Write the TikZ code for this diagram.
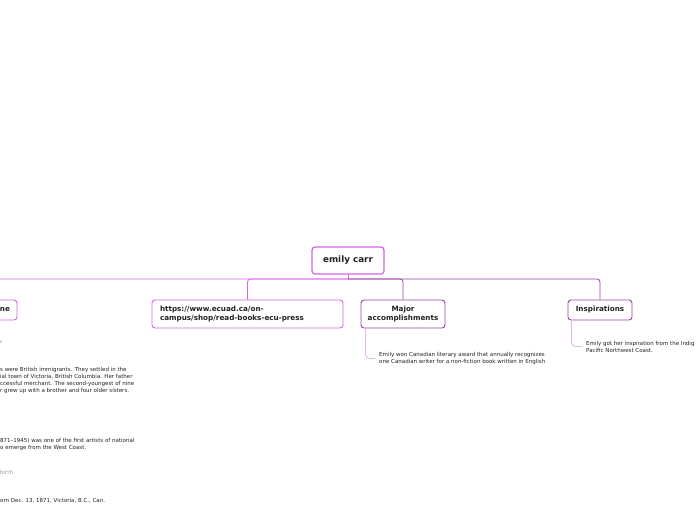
\documentclass[tikz,border=0pt]{standalone}
\usepackage{fontspec}
\setmainfont{DejaVu Sans}
\usetikzlibrary{positioning}
\definecolor{Orchid}{HTML}{D563E6}
\definecolor{Plum}{HTML}{9B3FA6}
\definecolor{Lilac}{HTML}{DDB8E6}
\definecolor{Ink}{HTML}{222222}
\definecolor{Ash}{HTML}{9A9A9A}

\begin{document}
\begin{tikzpicture}[x=1pt,y=-1pt,
    topic/.style={draw=#1,line width=0.9pt,rounded corners=3pt,fill=white,
      text=Ink,inner sep=0pt,font=\fontsize{7.2}{9}\selectfont\bfseries},
    branch/.style={draw=#1,line width=0.8pt,rounded corners=3pt},
    leaf/.style={text=Ink,inner sep=0pt,align=left,
      font=\fontsize{5.5}{7}\selectfont},
    twig/.style={draw=Lilac,line width=0.8pt,rounded corners=4pt}]
    \useasboundingbox (0,0) rectangle (696,520);
    \clip (0,0) rectangle (696,520);

    % central topic
    \node[topic=Orchid,line width=1.2pt,minimum width=72pt,minimum height=27pt,
      font=\fontsize{8.8}{10}\selectfont\bfseries] (root) at (348,260.5) {emily carr};
    \coordinate (hub) at (348,279);

    % main branches
    \node[topic=Orchid,minimum height=20pt,text width=56pt,inner xsep=7pt,align=right]
      (life) at (-18,310) {ne};
    \node[topic=Orchid,minimum height=28pt,text width=175pt,inner xsep=8pt,align=left]
      (url) at (247.5,314) {https://www.ecuad.ca/on-\\campus/shop/read-books-ecu-press};
    \node[topic=Plum,minimum width=84pt,minimum height=28pt,align=center]
      (major) at (403,314) {Major\\accomplishments};
    \node[topic=Plum,minimum width=64pt,minimum height=20pt]
      (insp) at (600,310) {Inspirations};

    \draw[branch=Orchid] (root.south) -- (hub);
    \draw[branch=Orchid] (hub) -| (life.north);
    \draw[branch=Orchid] (hub) -| (url.north);
    \draw[branch=Plum] (hub) -| (major.north);
    \draw[branch=Plum] (hub) -| (insp.north);

    % leaves
    \node[leaf,anchor=west,inner xsep=4pt] (award) at (375,358.5)
      {Emily won Canadian literary award that annually recognizes\\one Canadian writer for a non-fiction book written in English};
    \node[leaf,anchor=west,inner xsep=4pt] (coast) at (582,346.5)
      {Emily got her inspiration from the Indig\\Pacific Northwest Coast.};
    \draw[twig] ([xshift=5pt]major.south west) |- (award.west);
    \draw[twig] ([xshift=4pt]insp.south west) |- (coast.west);

    \node[leaf,anchor=west,text=Ash] (dates) at (-1,342) {s};
    \node[leaf,anchor=west] (parents) at (0,380.5)
      {s were British immigrants. They settled in the\\ial town of Victoria, British Columbia. Her father\\ccessful merchant. The second-youngest of nine\\r grew up with a brother and four older sisters.};
    \node[leaf,anchor=west] (artist) at (0,444.5)
      {871--1945) was one of the first artists of national\\o emerge from the West Coast.};
    \node[leaf,anchor=west,text=Ash] (birth) at (0,472) {birth};
    \node[leaf,anchor=west] (born) at (0,500.5) {orn Dec. 13, 1871, Victoria, B.C., Can.};
\end{tikzpicture}
\end{document}
